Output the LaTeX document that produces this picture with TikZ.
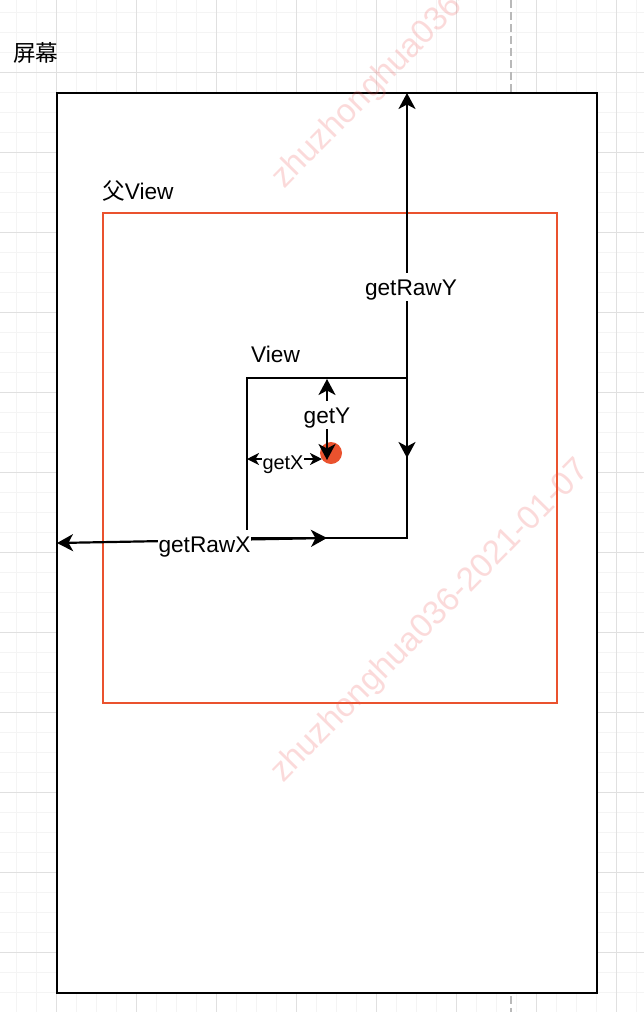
\documentclass[tikz,border=0pt]{standalone}
\usepackage{fontspec}
\setmainfont{Liberation Sans}
\newfontfamily\cjk{Noto Sans CJK SC}
\usetikzlibrary{arrows.meta}
\definecolor{fred}{RGB}{234,82,46}
\definecolor{gminor}{RGB}{244,244,244}
\definecolor{gmajor}{RGB}{224,224,224}
\definecolor{dashgray}{RGB}{185,185,185}
\definecolor{wmark}{RGB}{240,90,90}
\tikzset{
  bigtip/.tip={Stealth[length=16bp,width=17bp,inset=4.5bp]},
  smalltip/.tip={Stealth[length=12bp,width=12bp,inset=3.5bp]},
  minorgrid/.style={draw=gminor, line width=1bp},
  majorgrid/.style={draw=gmajor, line width=1bp},
  guide/.style={draw=dashgray, line width=2bp, dash pattern=on 8bp off 4bp},
  screenbox/.style={draw=black, fill=white, line width=2.2bp, outer sep=0pt, inner sep=0pt, anchor=north west},
  parentbox/.style={draw=fred, line width=2bp, outer sep=0pt, inner sep=0pt, anchor=north west},
  viewbox/.style={draw=black, line width=2.2bp, outer sep=0pt, inner sep=0pt, anchor=north west},
  conn/.style={draw=black, line width=2.2bp},
  lbl/.style={font=\fontsize{22.75}{27}\selectfont, inner sep=0pt},
  elbl/.style={lbl, fill=white, inner xsep=1bp, inner ysep=0.5bp, text height=22bp, text depth=5bp, anchor=base},
  wm/.style={font=\fontsize{33.5}{40}\selectfont, text=wmark, opacity=0.22, rotate=45.5, anchor=base west, inner sep=0pt},
}
\begin{document}
\begin{tikzpicture}[x=1bp,y=-1bp]
\useasboundingbox (0,0) rectangle (644,1012);
\fill[white] (0,0) rectangle (644,1012);
% background grid
\foreach \i in {0,...,31} { \draw[minorgrid] ({16.7+20*\i},0) -- ({16.7+20*\i},1012); }
\foreach \j in {0,...,50} { \draw[minorgrid] (0,{12+20*\j}) -- (644,{12+20*\j}); }
\foreach \i in {0,...,7} { \draw[majorgrid] ({56.7+80*\i},0) -- ({56.7+80*\i},1012); }
\foreach \j in {0,...,11} { \draw[majorgrid] (0,{72+80*\j}) -- (644,{72+80*\j}); }
% dashed guide
\draw[guide] (511,0) -- (511,1012);
% boxes
\node[screenbox, minimum width=540bp, minimum height=900bp] (screen) at (57,93) {};
\node[parentbox, minimum width=454bp, minimum height=490bp] (parent) at (103,213) {};
\node[viewbox, minimum width=160bp, minimum height=160bp] (view) at (247,378) {};
\node[circle, fill=fred, minimum size=22bp, inner sep=0pt] (dot) at (331,453) {};
% titles
\node[lbl, anchor=base west] (screenlbl) at (13,61) {\cjk 屏幕};
\node[lbl, anchor=base west] (parentlbl) at (102,199) {{\cjk 父}View};
\node[lbl, anchor=base west] (viewlbl) at (251,362) {View};
% coordinates
\coordinate (ytop) at (327,379);
\coordinate (ybot) at (327,460);
\coordinate (xleft) at (247,459);
\coordinate (xright) at (322,459);
% connectors
\draw[conn, {bigtip}-{bigtip}] (screen.north -| view.east) -- (view.east);
\draw[conn, {bigtip}-{bigtip}] (screen.west) -- (view.south);
\draw[conn, {bigtip}-{bigtip}] (ytop) -- (ybot);
\draw[conn, {smalltip}-{smalltip}] (xleft) -- (xright);
% edge labels
\node[elbl] (rawy) at (411,295) {getRawY};
\node[elbl] (rawx) at (204.5,552) {getRawX};
\node[elbl] (gety) at (327,423) {getY};
\node[lbl, anchor=base, fill=white, inner xsep=0.5bp, font=\fontsize{20}{24}\selectfont] (getx) at (283,469) {getX};
% watermarks
\node[wm] (wm1) at (284,190) {zhuzhonghua036-2021-01-07};
\node[wm] (wm2) at (283,784) {zhuzhonghua036-2021-01-07};
\end{tikzpicture}
\end{document}
